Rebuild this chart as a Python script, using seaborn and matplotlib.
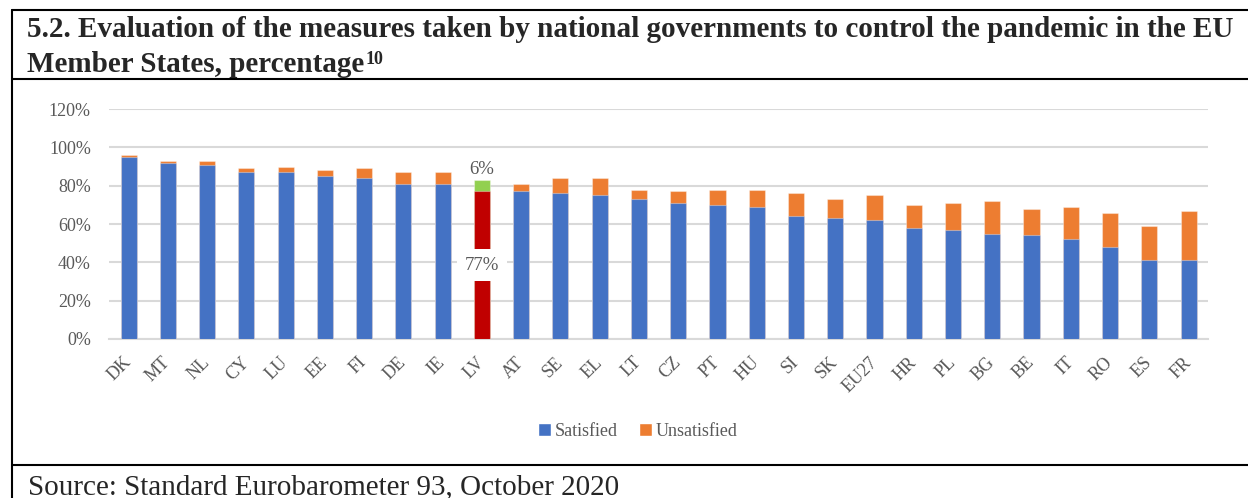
import matplotlib
matplotlib.use("Agg")
import matplotlib.pyplot as plt
import seaborn as sns
import pandas as pd
from matplotlib.lines import Line2D
from matplotlib.patches import Patch
from matplotlib.ticker import PercentFormatter

# data
countries = ["DK", "MT", "NL", "CY", "LU", "EE", "FI", "DE", "IE", "LV", "AT", "SE", "EL", "LT",
             "CZ", "PT", "HU", "SI", "SK", "EU27", "HR", "PL", "BG", "BE", "IT", "RO", "ES", "FR"]
satisfied = [95, 92, 91, 87, 87, 85, 84, 81, 81, 77, 77, 76, 75, 73,
             71, 70, 69, 64, 63, 62, 58, 57, 55, 54, 52, 48, 41, 41]
unsatisfied = [1, 1, 2, 2, 3, 3, 5, 6, 6, 6, 4, 8, 9, 5,
               6, 8, 9, 12, 10, 13, 12, 14, 17, 14, 17, 18, 18, 26]
highlight = "LV"

BLUE = "#4472C4"
ORANGE = "#ED7D31"
RED = "#C00000"
GREEN = "#92D050"
GRAY = "#595959"
GRID = "#D9D9D9"

df = pd.DataFrame({"country": countries, "Satisfied": satisfied, "Unsatisfied": unsatisfied})
df["total"] = df["Satisfied"] + df["Unsatisfied"]

sns.set_style("white")
plt.rcParams["font.family"] = ["Liberation Serif", "DejaVu Serif"]

W, H = 1248, 498
fig = plt.figure(figsize=(W / 100, H / 100), dpi=100)
ax = fig.add_axes([0.0873, 0.3193, 0.8808, 0.4618])

# stacked bars: total (orange) underneath, satisfied (blue) on top
sns.barplot(data=df, x="country", y="total", color=ORANGE, width=0.41,
            saturation=1, ax=ax, zorder=3)
sns.barplot(data=df, x="country", y="Satisfied", color=BLUE, width=0.41,
            saturation=1, ax=ax, zorder=3)

n = len(countries)
hi = countries.index(highlight)
ax.patches[hi].set_facecolor(GREEN)
ax.patches[n + hi].set_facecolor(RED)
for p in ax.patches:
    p.set_edgecolor((1, 1, 1, 0.35))
    p.set_linewidth(0.8)

ax.set_ylim(0, 120)
ax.set_xlim(-0.5, n - 0.5)
ax.set_yticks(range(0, 121, 20))
ax.yaxis.set_major_formatter(PercentFormatter(decimals=0))
ax.grid(axis="y", color=GRID, linewidth=1.5, zorder=0)
ax.set_axisbelow(True)
for s in ["top", "right", "left"]:
    ax.spines[s].set_visible(False)
ax.spines["bottom"].set_color(GRID)
ax.spines["bottom"].set_linewidth(1.5)
ax.set_xlabel("")
ax.set_ylabel("")
ax.tick_params(axis="y", length=0, pad=13, labelsize=13, labelcolor=GRAY)
ax.tick_params(axis="x", length=0, pad=15, labelsize=13, labelcolor=GRAY)
plt.setp(ax.get_xticklabels(), rotation=45, ha="right", rotation_mode="anchor", va="center")

# labels on the highlighted bar
sat_hi = df.loc[hi, "Satisfied"]
uns_hi = df.loc[hi, "Unsatisfied"]
ax.text(hi, df.loc[hi, "total"] + 1.0, f"{uns_hi}%", ha="center", va="bottom",
        fontsize=13.5, color=GRAY, zorder=5)
ax.text(hi, sat_hi / 2, f"{sat_hi}%", ha="center", va="center", fontsize=13.5, color=GRAY,
        zorder=5, bbox=dict(boxstyle="square,pad=0.4", facecolor="white", edgecolor="none"))

handles = [Patch(facecolor=BLUE, label="Satisfied"), Patch(facecolor=ORANGE, label="Unsatisfied")]
fig.legend(handles=handles, loc="center", bbox_to_anchor=(0.511, 0.1345), ncol=2, frameon=False,
           prop={"family": "Liberation Serif", "size": 13}, labelcolor=GRAY,
           handlelength=0.7, handleheight=0.7, handletextpad=0.2, columnspacing=1.2)

# title and source
fig.text(27 / W, 1 - 37 / H, "5.2. Evaluation of the measures taken by national governments to control the pandemic in the EU",
         fontsize=21, fontweight="bold", ha="left", va="baseline")
line2 = fig.text(27 / W, 1 - 72 / H, "Member States, percentage",
                 fontsize=21, fontweight="bold", ha="left", va="baseline")
fig.canvas.draw()
x_end = line2.get_window_extent().x1
fig.text(x_end / W + 1 / W, 1 - 64 / H, "10", fontsize=13, fontweight="bold",
         ha="left", va="baseline")
fig.text(28 / W, 1 - 494 / H, "Source: Standard Eurobarometer 93, October 2020",
         fontsize=21, ha="left", va="baseline")

# frame lines of the boxed figure
def hline(y, x0=12, x1=W, lw=1.5):
    fig.add_artist(Line2D([x0 / W, x1 / W], [1 - y / H, 1 - y / H], color="black", lw=lw))

hline(10)
hline(79)
hline(465)
fig.add_artist(Line2D([12 / W, 12 / W], [1 - 10 / H, 0], color="black", lw=1.5))

fig.savefig("out.png", dpi=100)
